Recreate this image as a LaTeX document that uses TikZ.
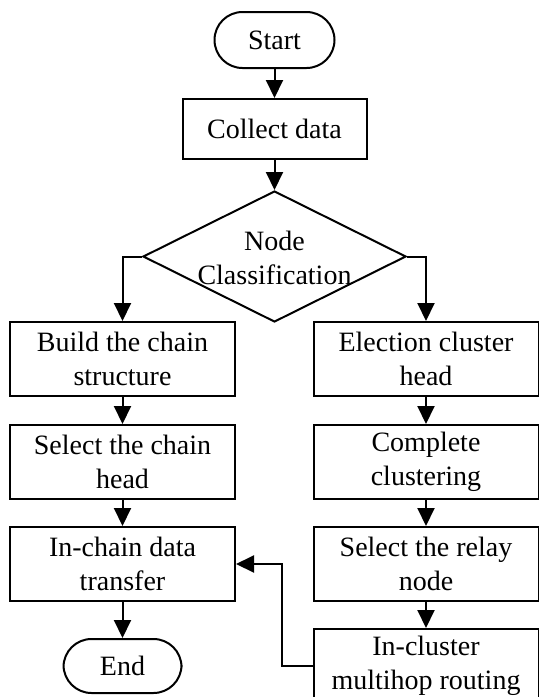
\documentclass[tikz,border=0pt]{standalone}
\usepackage{fontspec}
\setmainfont{Liberation Serif}
\usetikzlibrary{shapes.geometric,arrows.meta}
\tikzset{
  base/.style={draw, line width=1pt, inner sep=0pt, align=center,
    font=\fontsize{14pt}{17pt}\selectfont},
  stepbox/.style={base, rectangle, minimum width=112.5pt, minimum height=37pt},
  terminal/.style={base, rectangle, rounded corners=14pt, minimum height=28pt},
  decision/.style={draw, line width=1pt, diamond, inner sep=0pt,
    minimum width=131.5pt, minimum height=65.5pt},
  flow/.style={line width=1pt, -{Triangle[length=9pt,width=8.5pt]}}
}
\begin{document}
\begin{tikzpicture}[x=0.5pt,y=-0.5pt]
\useasboundingbox (0,0) rectangle (539,697);
\begin{scope}
\clip (0,0) rectangle (539,697);
% main trunk
\node[terminal, minimum width=60pt] (start) at (274.5,40) {Start};
\node[stepbox, minimum width=92pt, minimum height=30pt] (collect) at (274.5,129) {Collect data};
\node[decision] (cls) at (274.5,256.5) {};
\node[align=center, inner sep=0pt, font=\fontsize{14pt}{17pt}\selectfont] (clstext) at (274.5,258) {Node\\Classification};
% chain branch
\node[stepbox] (build) at (122.5,359) {Build the chain\\structure};
\node[stepbox] (chead) at (122.5,462) {Select the chain\\head};
\node[stepbox] (intra) at (122.5,564) {In-chain data\\transfer};
\node[terminal, minimum width=59pt, minimum height=27pt] (end) at (122.5,666) {End};
% cluster branch
\node[stepbox] (elect) at (426,359) {Election cluster\\head};
\node[stepbox] (clust) at (426,462) {Complete\\clustering};
\node[stepbox] (relay) at (426,564) {Select the relay\\node};
\node[stepbox] (multi) at (426,666) {In-cluster\\multihop routing};
% connectors
\draw[flow] (start) -- (collect);
\draw[flow] (collect) -- (cls.north);
\draw[flow] (cls.west) -| (build.north);
\draw[flow] (cls.east) -| (elect.north);
\draw[flow] (build) -- (chead);
\draw[flow] (chead) -- (intra);
\draw[flow] (intra) -- (end);
\draw[flow] (elect) -- (clust);
\draw[flow] (clust) -- (relay);
\draw[flow] (relay) -- (multi);
\coordinate (bend) at (282,666);
\draw[flow] (multi.west) -- (bend) |- (intra.east);
\end{scope}
\end{tikzpicture}
\end{document}
